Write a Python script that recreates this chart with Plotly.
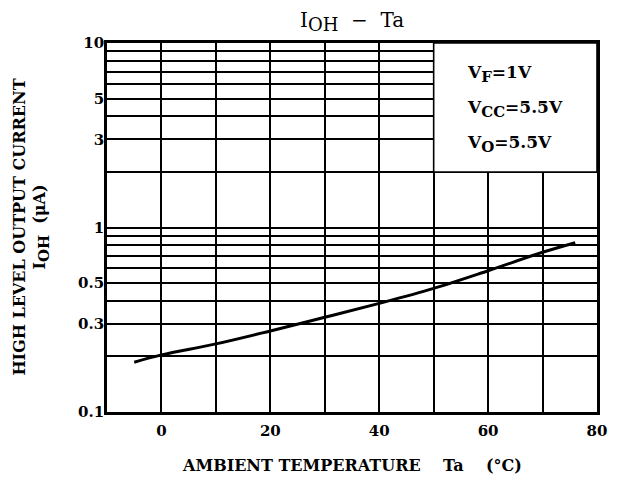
import plotly.graph_objects as go

# ---- data ----
ta = [-5, 0, 10, 20, 30, 40, 50, 60, 70, 76]
ioh = [0.186, 0.204, 0.234, 0.275, 0.326, 0.388, 0.468, 0.583, 0.734, 0.827]

x_ticks = [0, 20, 40, 60, 80]
x_labels = ["0", "20", "40", "60", "80"]
x_minor = [-10, 10, 30, 50, 70]
y_ticks = [0.1, 0.3, 0.5, 1, 3, 5, 10]
y_labels = ["0.1", "0.3", "0.5", "1", "3", "5", "10"]
y_minor = [0.2, 0.4, 0.6, 0.7, 0.8, 0.9, 2, 4, 6, 7, 8, 9]

box_x = [50, 80]
box_y = [2, 10]


def sub(s, size):
    return f"<sub><span style='font-size:{size}px'>{s}</span></sub>"


conditions = ["V" + sub("F", 15) + "=1V",
              "V" + sub("CC", 15) + "=5.5V",
              "V" + sub("O", 15) + "=5.5V"]
cond_y = [0.916, 0.821, 0.726]

title_text = "I" + sub("OH", 18) + "  −  Ta"
x_title = "AMBIENT TEMPERATURE    Ta    (°C)"
y_title = "HIGH LEVEL OUTPUT CURRENT<br>I" + sub("OH", 15) + "  (μA)"

SERIF = "DejaVu Serif"

fig = go.Figure()
fig.add_trace(go.Scatter(x=ta, y=ioh, mode="lines",
                         line=dict(color="black", width=3, shape="spline"),
                         showlegend=False, hoverinfo="skip"))

fig.update_layout(
    width=623, height=480,
    margin=dict(l=107, r=26, t=43, b=68),
    paper_bgcolor="white", plot_bgcolor="white",
    font=dict(family=SERIF, color="black"),
    showlegend=False,
)

fig.update_xaxes(
    range=[-10, 80], tickvals=x_ticks, ticktext=x_labels,
    showgrid=True, gridcolor="black", gridwidth=1.5,
    minor=dict(tickvals=x_minor, showgrid=True, gridcolor="black",
               gridwidth=1.5, ticks=""),
    showline=True, linecolor="black", linewidth=2.6, mirror=True,
    ticks="", zeroline=False, ticklabelstandoff=3,
    tickfont=dict(family=SERIF, size=15, weight="bold"),
)
fig.update_yaxes(
    type="log", range=[-1, 1], tickvals=y_ticks, ticktext=y_labels,
    showgrid=True, gridcolor="black", gridwidth=1.5,
    minor=dict(tickvals=y_minor, showgrid=True, gridcolor="black",
               gridwidth=1.5, ticks=""),
    showline=True, linecolor="black", linewidth=2.6, mirror=True,
    ticks="", zeroline=False, ticklabelstandoff=-3,
    tickfont=dict(family=SERIF, size=15, weight="bold"),
)

# white condition box covering part of the grid
fig.add_shape(type="rect", xref="x", yref="y",
              x0=box_x[0], x1=box_x[1], y0=box_y[0], y1=box_y[1],
              fillcolor="white", line=dict(color="black", width=1.6),
              layer="above")

for txt, yy in zip(conditions, cond_y):
    fig.add_annotation(text=txt, xref="paper", yref="paper", x=0.731, y=yy,
                       xanchor="left", yanchor="middle", showarrow=False,
                       font=dict(family=SERIF, size=17, weight="bold"))

fig.add_annotation(text=title_text, xref="paper", yref="paper", x=0.5, y=1.057,
                   xanchor="center", yanchor="middle", showarrow=False,
                   font=dict(family=SERIF, size=20))
fig.add_annotation(text=x_title, xref="paper", yref="paper", x=0.5, y=-0.146,
                   xanchor="center", yanchor="middle", showarrow=False,
                   font=dict(family=SERIF, size=16, weight="bold"))
fig.add_annotation(text=y_title, xref="paper", yref="paper", x=-0.155, y=0.5,
                   xanchor="center", yanchor="middle", showarrow=False,
                   textangle=-90,
                   font=dict(family=SERIF, size=16, weight="bold"))

fig.write_html("out.html")
